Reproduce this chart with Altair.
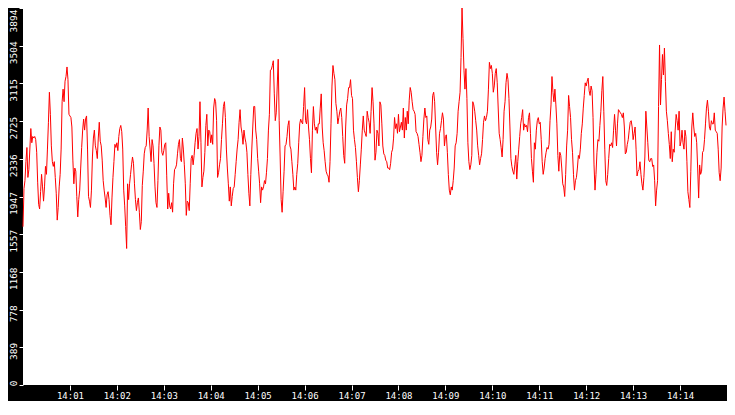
import altair as alt
import pandas as pd

seg_a = [1635, 2029, 2111, 2307, 2453, 2144, 2225, 2437, 2649, 2502,
         2567, 2551, 2567, 2535, 2404, 2095, 1866, 1818, 1997, 2176,
         2046, 1899, 2046, 2258, 2176, 2437, 2714, 3024, 2796, 2470,
         2307, 2258, 2307, 2144, 1981, 1703, 1834, 2046, 2176, 2437,
         2926, 3056, 2926, 3138, 3187, 3285, 3154, 2796, 2779, 2763,
         2665, 2323, 2078, 2241, 2209, 1948, 1736, 1915, 2013, 2241,
         2453, 2633, 2747, 2633, 2747, 2779, 2437, 1948, 1899, 1834,
         2013, 2355, 2551, 2633, 2470, 2421, 2339, 2551, 2714, 2518,
         2470, 2323, 2111, 2013, 1932, 1834, 1964, 1997, 1915, 1752,
         1655, 1932, 2144, 2307, 2486, 2453, 2502, 2421, 2567, 2649,
         2681, 2616, 2437, 2013, 1850, 1638, 1410, 2078, 1915, 2078,
         2176, 2274, 2355, 2290, 2078, 1915, 1801, 1883, 1932, 1785,
         1606, 1687, 2062, 2209, 2388, 2453, 2470, 2633, 2861, 2567]
seg_b = [2437, 2307, 2535, 2470, 2290, 2046, 1883, 1834, 2111, 2470,
         2665, 2633, 2404, 2372, 2421, 2486, 2502, 2160, 1818, 1981,
         1850, 1818, 1883, 1785, 2078, 2225, 2241, 2274, 2388, 2486,
         2535, 2339, 2307, 2551, 2437, 2274, 2078, 1752, 1899, 1883,
         1801, 2078, 2339, 2372, 2274, 2372, 2502, 2600, 2649, 2437,
         2567, 2926, 2502, 2046, 2144, 2209, 2404, 2681, 2796, 2470,
         2633, 2616, 2502, 2584, 2486, 2861, 2959, 2926, 2730, 2144,
         2192, 2274, 2339, 2535, 2698, 2877, 2926, 2763, 2437, 2241,
         2078, 1899, 2046, 1850, 1948, 2029, 2046, 2176, 2307, 2437,
         2535, 2714, 2844, 2665, 2600, 2486, 2633, 2551, 2502, 2404,
         2176, 1981, 1850, 2176, 2437, 2665, 2877, 2877, 2633, 2535,
         2339, 2209, 2078, 1883, 2046, 2013, 2046, 2111, 2078, 2192,
         2339, 2633, 2796, 3252, 3258]
seg_c = [3300, 3349, 3007, 2730, 2811, 3088, 3365, 2730, 2355, 1915,
         1784, 1996, 2208, 2469, 2485, 2567, 2681, 2730, 2469, 2436,
         2306, 2176, 2013, 2045, 2013, 2176, 2290, 2502, 2697, 2746,
         2713, 2697, 2876, 3072, 2730, 2697, 2844, 2665, 2534, 2339,
         2192, 2632, 2876, 2697, 2632, 2665, 2599, 2697, 2697, 2860,
         3007, 2665, 2502, 2420, 2306, 2208, 2176, 2159, 2094, 2306,
         2697, 3088, 3300, 3219, 3154, 2909, 2828, 2697, 2762, 2828,
         2860, 2762, 2567, 2371, 2290, 2665, 2893, 2958, 3072, 3072,
         3154, 2991, 2958, 2632, 2534, 2453, 2306, 2143, 1996, 2110,
         2273, 2436, 2632, 2779, 2632, 2599, 2567, 2828, 2762, 2713,
         2599, 2828, 3072, 2925, 2697, 2322, 2404, 2632, 2599, 2469,
         2925, 2893, 2697, 2469, 2387, 2371, 2322, 2306, 2241, 2241,
         2224, 2290, 2404, 2436, 2550]
seg_d = [2763, 2649, 2698, 2600, 2796, 2616, 2665, 2714, 2633, 2861,
         2551, 2763, 2633, 2828, 2698, 2942, 3073, 3024, 2926, 2844,
         2828, 2796, 2616, 2600, 2567, 2486, 2404, 2307, 2372, 2567,
         2747, 2861, 2763, 2779, 2535, 2486, 2633, 2665, 2747, 2991,
         3024, 2926, 2665, 2404, 2274, 2404, 2600, 2649, 2730, 2812,
         2747, 2470, 2567, 2584, 2404, 2176, 2013, 1964, 2046, 2013,
         2111, 2241, 2470, 2502, 2600, 2828, 2926, 3024, 3382, 3894,
         3578, 3252, 3056, 3268, 2959, 2502, 2307, 2225, 2274, 2372,
         2926, 2893, 2828, 2730, 2633, 2470, 2372, 2274, 2339, 2388,
         2535, 2714, 2779, 2730, 2763, 2828, 3056, 3333, 3268, 3301,
         3219, 3024, 3089, 3219, 3268, 3122, 2861, 2600, 2535, 2453,
         2355, 2535, 2828, 2926, 3122, 3219, 3154, 2959, 2665, 2339,
         2258, 2209, 2176, 2274, 2372]
seg_e = [2127, 2306, 2436, 2567, 2697, 2762, 2844, 2632, 2697, 2665,
         2681, 2616, 2762, 2811, 2599, 2339, 2208, 2094, 2502, 2436,
         2632, 2730, 2762, 2697, 2713, 2534, 2306, 2176, 2241, 2339,
         2404, 2453, 2436, 2485, 2730, 2893, 3186, 3023, 2925, 3056,
         2893, 2697, 2371, 2208, 2404, 2371, 2241, 2078, 2045, 1947,
         2176, 2469, 2632, 2991, 2876, 2762, 2534, 2404, 2176, 2013,
         2110, 2143, 2241, 2371, 2339, 2436, 2599, 2697, 2860, 2991,
         3121, 3088, 3137, 3170, 3039, 2991, 3088, 3039, 2762, 2273,
         2013, 2176, 2404, 2534, 2518, 2681, 2828, 3039, 3186, 2828,
         2436, 2110, 2061, 2176, 2339, 2485, 2469, 2502, 2453, 2632,
         2795, 2632, 2469, 2697, 2844, 2828, 2811, 2795, 2762, 2811,
         2665, 2387, 2404, 2485, 2534, 2632, 2713, 2730, 2665, 2534,
         2599, 2665, 2436, 2159, 2208]
seg_f = [2224, 2306, 2176, 2078, 2013, 2143, 2355, 2828, 2665, 2502,
         2322, 2306, 2339, 2339, 2257, 2273, 2110, 1850, 2013, 2110,
         2876, 3512, 2893, 3154, 3414, 3202, 3480, 3137, 2828, 2730,
         2599, 2485, 2339, 2616, 2306, 2436, 2404, 2632, 2795, 2730,
         2632, 2828, 2469, 2518, 2632, 2502, 2436, 2632, 2567, 2306,
         1996, 1915, 1833, 2208, 2665, 2811, 2665, 2567, 2599, 2502,
         2241, 1931, 2273, 2176, 2208, 2404, 2420, 2534, 2697, 2860,
         2942, 2828, 2665, 2632, 2730, 2697, 2697, 2811, 2632, 2616,
         2599, 2436, 2192, 2110, 2241, 2665, 2860, 2974, 2828, 2681]

y_ticks = [0, 389, 778, 1168, 1557, 1947, 2336, 2725, 3115, 3504, 3894]
x_tick_minutes = list(range(1, 15))  # 14:01 ... 14:14

values = seg_a + seg_b + seg_c + seg_d + seg_e + seg_f
times = pd.date_range("2024-01-01 14:00:00", periods=len(values), freq="1250ms")
df = pd.DataFrame({
    "time": [t.strftime("%Y-%m-%dT%H:%M:%S.") + f"{t.microsecond // 1000:03d}" for t in times],
    "value": values,
})


def dt(minute):
    return alt.DateTime(year=2024, month=1, date=1, hours=14, minutes=minute)


font = "DejaVu Sans Mono"

chart = (
    alt.Chart(df)
    .mark_line(color="#ff0000", strokeWidth=1)
    .encode(
        x=alt.X(
            "time:T",
            scale=alt.Scale(domain=[dt(0), dt(15)]),
            axis=alt.Axis(
                values=[dt(m) for m in x_tick_minutes],
                format="%H:%M",
                title=None,
                grid=False,
                domain=False,
                tickColor="white",
                tickSize=5,
                labelColor="white",
                labelFont=font,
                labelFontSize=9,
                labelPadding=1,
                labelOverlap=False,
            ),
        ),
        y=alt.Y(
            "value:Q",
            scale=alt.Scale(domain=[0, 3894], nice=False, zero=True),
            axis=alt.Axis(
                values=y_ticks,
                format="d",
                title=None,
                grid=False,
                domain=False,
                tickColor="white",
                tickSize=4,
                labelColor="white",
                labelFont=font,
                labelFontSize=9.5,
                labelAngle=270,
                labelAlign="right",
                labelBaseline="bottom",
                labelPadding=1,
                labelOffset=alt.condition("datum.value == 3894", alt.value(1), alt.value(-5)),
                labelOverlap=False,
                labelBound=False,
            ),
        ),
    )
    .properties(
        width=704,
        height=377,
        background="black",
        padding={"left": 15, "top": 0, "right": 0, "bottom": 16},
        autosize=alt.AutoSizeParams(type="none"),
    )
    .configure_view(fill="white", stroke=None)
)

chart.save("out.html", embed_options={"renderer": "svg", "actions": False})
